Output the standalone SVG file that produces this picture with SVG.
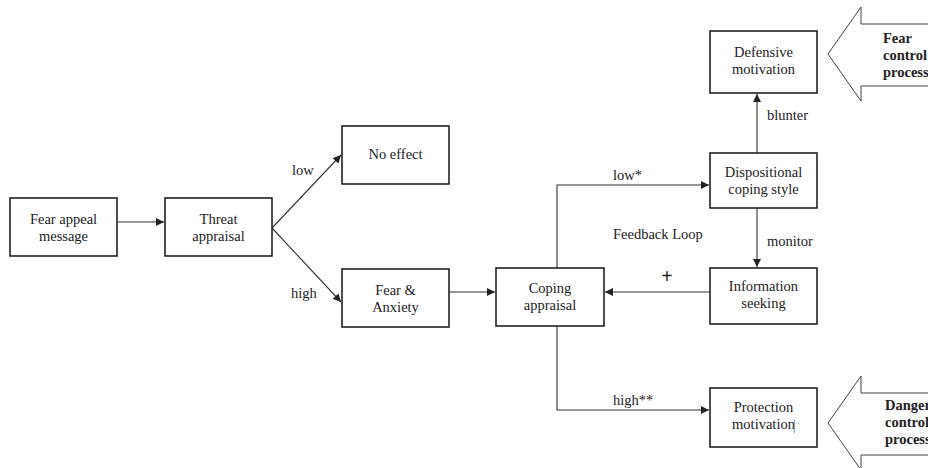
<svg xmlns="http://www.w3.org/2000/svg" width="928" height="468" viewBox="0 0 928 468">
  <style>
    .box { fill: #fff; stroke: #222; stroke-width: 1.6; }
    .lbl { font-family: "Liberation Serif", "Times New Roman", serif; font-size: 14.5px; fill: #222; }
    .c { text-anchor: middle; }
    .b { font-weight: bold; }
    .con { fill: none; stroke: #333; stroke-width: 1.1; }
    .big { fill: #fff; stroke: #444; stroke-width: 1; }
  </style>
  <defs>
    <marker id="ah" markerUnits="userSpaceOnUse" markerWidth="8" markerHeight="8" refX="8" refY="4" orient="auto">
      <path d="M0,0 L8,4 L0,8 z" fill="#222"/>
    </marker>
  </defs>
  <rect width="928" height="468" fill="#fff"/>

  <g id="connectors">
    <line class="con" x1="117" y1="222" x2="164" y2="222" marker-end="url(#ah)"/>
    <line class="con" x1="272" y1="228" x2="341" y2="155" marker-end="url(#ah)"/>
    <line class="con" x1="272" y1="228" x2="341" y2="302" marker-end="url(#ah)"/>
    <line class="con" x1="449" y1="292" x2="495" y2="292" marker-end="url(#ah)"/>
    <polyline class="con" points="557,268 557,185 709,185" marker-end="url(#ah)"/>
    <polyline class="con" points="557,326 557,410 709,410" marker-end="url(#ah)"/>
    <line class="con" x1="710" y1="292" x2="605" y2="292" marker-end="url(#ah)"/>
    <line class="con" x1="757" y1="153" x2="757" y2="94" marker-end="url(#ah)"/>
    <line class="con" x1="757" y1="208" x2="757" y2="267" marker-end="url(#ah)"/>
    <text class="lbl" x="292" y="175">low</text>
    <text class="lbl" x="291" y="298">high</text>
    <text class="lbl" x="613" y="180">low*</text>
    <text class="lbl" x="613" y="405">high**</text>
    <text class="lbl" x="767" y="120">blunter</text>
    <text class="lbl" x="767" y="246">monitor</text>
    <text class="lbl" x="613" y="239">Feedback Loop</text>
    <text class="lbl c b" x="667" y="283" style="font-size:20px">+</text>
  </g>

  <g id="fear-appeal">
    <rect class="box" x="10" y="198" width="107" height="58"/>
    <text class="lbl c" x="63.5" y="224">Fear appeal</text>
    <text class="lbl c" x="63.5" y="241">message</text>
  </g>
  <g id="threat-appraisal">
    <rect class="box" x="165" y="198" width="107" height="58"/>
    <text class="lbl c" x="218.5" y="224">Threat</text>
    <text class="lbl c" x="218.5" y="241">appraisal</text>
  </g>
  <g id="no-effect">
    <rect class="box" x="342" y="126" width="107" height="58"/>
    <text class="lbl c" x="395.5" y="159">No effect</text>
  </g>
  <g id="fear-anxiety">
    <rect class="box" x="342" y="269" width="107" height="58"/>
    <text class="lbl c" x="395.5" y="295">Fear &amp;</text>
    <text class="lbl c" x="395.5" y="312">Anxiety</text>
  </g>
  <g id="coping-appraisal">
    <rect class="box" x="496" y="268" width="108" height="58"/>
    <text class="lbl c" x="550" y="293">Coping</text>
    <text class="lbl c" x="550" y="310">appraisal</text>
  </g>
  <g id="dispositional">
    <rect class="box" x="710" y="153" width="107" height="55"/>
    <text class="lbl c" x="763.5" y="177">Dispositional</text>
    <text class="lbl c" x="763.5" y="194">coping style</text>
  </g>
  <g id="information-seeking">
    <rect class="box" x="710" y="268" width="107" height="56"/>
    <text class="lbl c" x="763.5" y="291">Information</text>
    <text class="lbl c" x="763.5" y="308">seeking</text>
  </g>
  <g id="defensive-motivation">
    <rect class="box" x="710" y="31" width="107" height="62"/>
    <text class="lbl c" x="763.5" y="57">Defensive</text>
    <text class="lbl c" x="763.5" y="74">motivation</text>
  </g>
  <g id="protection-motivation">
    <rect class="box" x="710" y="388" width="107" height="59"/>
    <text class="lbl c" x="763.5" y="412">Protection</text>
    <text class="lbl c" x="763.5" y="429">motivation</text>
    <line x1="794.5" y1="420" x2="794.5" y2="433" stroke="#7aa8dc" stroke-width="1"/>
  </g>
  <g id="fear-control-process">
    <path class="big" d="M935,24 L861,24 L861,7 L828,54 L861,101 L861,86 L935,86"/>
    <text class="lbl b" x="883" y="43">Fear</text>
    <text class="lbl b" x="883" y="60">control</text>
    <text class="lbl b" x="883" y="77">process</text>
  </g>
  <g id="danger-control-process">
    <path class="big" d="M935,393 L861,393 L861,376 L828,423 L861,470 L861,455 L935,455"/>
    <text class="lbl b" x="885" y="410">Danger</text>
    <text class="lbl b" x="885" y="427">control</text>
    <text class="lbl b" x="885" y="444">process</text>
  </g>
</svg>
